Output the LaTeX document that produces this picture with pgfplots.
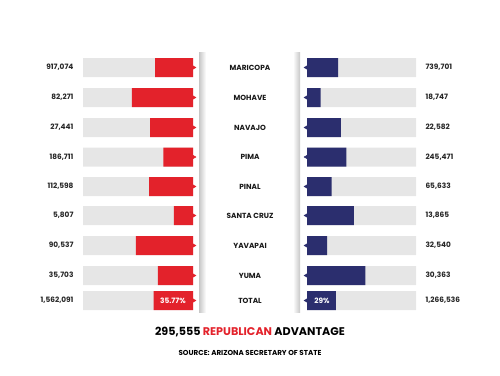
\documentclass[border=0pt]{standalone}
\usepackage{pgfplots}
\pgfplotsset{compat=1.18}
\usepackage{pgfplotstable}
\usepackage{fontspec}
\setmainfont{Poppins}
\definecolor{repred}{HTML}{E3222B}
\definecolor{demblue}{HTML}{2B2E6E}
\definecolor{bggray}{HTML}{E6E6E6}
\pgfplotstableread[col sep=semicolon]{
y;county;rep;dem;repv;demv
67.5;MARICOPA;34.5;28.5;917,074;739,701
97.5;MOHAVE;55.5;12.5;82,271;18,747
127.5;NAVAJO;39;31;27,441;22,582
157;PIMA;27;36;186,711;245,471
186.5;PINAL;40;22.5;112,598;65,633
215.5;SANTA CRUZ;17.5;43;5,807;13,865
245.5;YAVAPAI;52;18.5;90,537;32,540
275.5;YUMA;32;53.5;35,703;30,363
300.5;TOTAL;35.77;26.5;1,562,091;1,266,536
}\datatable
\pgfplotsset{
  barpanel/.style={
    scale only axis, height=270bp, ymin=-320, ymax=-50,
    axis lines=none, ticks=none, clip=false, anchor=south west,
  },
}
\tikzset{lbl/.style={font=\fontsize{7.4}{8}\selectfont\bfseries}}
\begin{document}
\begin{tikzpicture}[x=1bp,y=1bp]
\path[use as bounding box] (0,0) rectangle (500,-375);
% soft shadows
\shade[left color=black!22, right color=white] (199,-52) rectangle (206,-312);
\shade[left color=white, right color=black!22] (293,-52) rectangle (300,-312);
% left (Republican): bars grow leftwards (negative x)
\begin{axis}[barpanel, width=110bp, xmin=-100, xmax=0, at={(83bp,-320bp)}]
\addplot[xbar, bar width=19bp, bar shift=0pt, fill=bggray, draw=none] table[x expr=-100, y expr=-\thisrow{y}] {\datatable};
\addplot[xbar, bar width=19bp, bar shift=0pt, fill=repred, draw=none] table[x expr=-\thisrow{rep}, y expr=-\thisrow{y}] {\datatable};
\addplot[only marks, mark=triangle*, mark size=3bp, color=repred, mark options={rotate=-90}] table[x expr=0, y expr=-\thisrow{y}] {\datatable};
\addplot[draw=none, nodes near coords, point meta=explicit symbolic,
  nodes near coords style={anchor=east, xshift=-6bp, lbl, text=black!85}]
  table[x expr=-100, y expr=-\thisrow{y}, meta=repv] {\datatable};
\addplot[draw=none, nodes near coords, point meta=explicit symbolic,
  nodes near coords style={anchor=center, xshift=57bp, lbl, text=black!90}]
  table[x expr=0, y expr=-\thisrow{y}, meta=county] {\datatable};
\node[text=white, lbl] at (axis cs:-18.2,-300.5) {35.77\%};
\end{axis}
% right (Democratic)
\begin{axis}[barpanel, width=109bp, xmin=0, xmax=100, at={(307bp,-320bp)}]
\addplot[xbar, bar width=19bp, bar shift=0pt, fill=bggray, draw=none] table[x expr=100, y expr=-\thisrow{y}] {\datatable};
\addplot[xbar, bar width=19bp, bar shift=0pt, fill=demblue, draw=none] table[x=dem, y expr=-\thisrow{y}] {\datatable};
\addplot[only marks, mark=triangle*, mark size=3bp, color=demblue, mark options={rotate=90}] table[x expr=0, y expr=-\thisrow{y}] {\datatable};
\addplot[draw=none, nodes near coords, point meta=explicit symbolic,
  nodes near coords style={anchor=west, xshift=6bp, lbl, text=black!85}]
  table[x expr=100, y expr=-\thisrow{y}, meta=demv] {\datatable};
\node[text=white, lbl] at (axis cs:13.8,-300.5) {29\%};
\end{axis}
\node[font=\fontsize{11.2}{13}\selectfont\bfseries] at (250,-332) {295,555 \textcolor{repred}{REPUBLICAN} ADVANTAGE};
\node[font=\fontsize{7.2}{8}\selectfont\bfseries] at (250,-353) {SOURCE: ARIZONA SECRETARY OF STATE};
\end{tikzpicture}
\end{document}
